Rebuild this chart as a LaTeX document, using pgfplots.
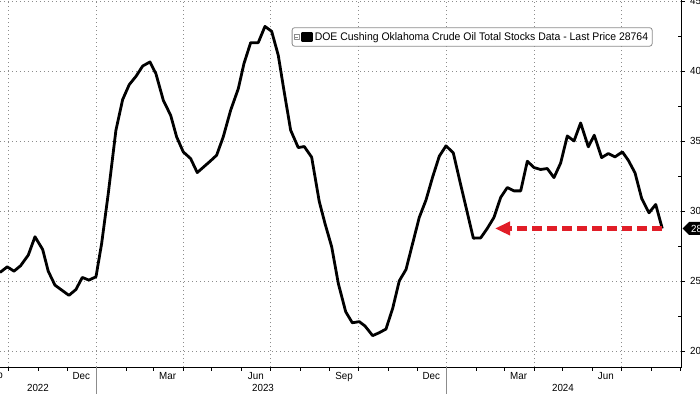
\documentclass[border=0pt]{standalone}
\usepackage{fontspec}
\setmainfont{Liberation Sans}[FakeStretch=0.95]
\usepackage{pgfplots}
\pgfplotsset{compat=1.18}
\usetikzlibrary{shapes.symbols,arrows.meta}
\definecolor{arrred}{RGB}{225,30,40}
\definecolor{gridgray}{RGB}{140,140,140}
\begin{document}
\begin{tikzpicture}
\begin{axis}[
  width=681.7pt, height=367pt, scale only axis,
  xmin=-100.8, xmax=610.1, ymin=18.857, ymax=45.1,
  axis x line*=bottom, axis y line*=right,
  axis line style={black, line width=0.8pt},
  clip=false,
  xtick={-92,0,90,181,273,365,456,547},
  xticklabels={},
  minor xtick={-61,-31,31,59,120,151,212,243,304,334,396,425,486,517,578,609},
  extra x ticks={-16,74,166,258,349,440,531},
  extra x tick labels={Dec,Mar,Jun,Sep,Dec,Mar,Jun},
  extra x tick style={grid=none, major tick length=0pt},
  xticklabel style={yshift=-1.5pt},
  ytick={20,25,30,35,40,45},
  minor ytick={22.5,27.5,32.5,37.5,42.5},
  xmajorgrids, ymajorgrids,
  grid style={gridgray, line width=0.7pt, dash pattern=on 0.8pt off 3.2pt},
  tick align=outside,
  major tick length=3.5pt, minor tick length=3.5pt,
  tick style={black, line width=0.7pt},
  every minor y tick/.append style={xshift=-3.5pt},
  ticklabel style={font=\fontsize{10.3}{12}\selectfont},
  yticklabel style={xshift=1.5pt},
  /pgf/number format/assume math mode=true,
  legend style={at={(rel axis cs:0.4279,0.9256)}, anchor=north west,
    draw=gridgray, rounded corners=2.5pt, line width=0.8pt,
    inner xsep=2pt, inner ysep=2.5pt,
    font=\fontsize{11}{13}\selectfont},
  legend cell align=left,
  legend image code/.code={
    \draw[gridgray, line width=0.5pt, rounded corners=0pt] (0pt,-2.2pt) rectangle (4.4pt,2.2pt);
    \draw[gridgray, line width=0.5pt] (1.1pt,0pt) -- (3.3pt,0pt);
    \fill[black, rounded corners=0pt] (8.5pt,-4pt) rectangle (17pt,4pt);
  },
]
\addplot[black, line width=2.8pt, line join=round] coordinates {
(-100.8,25.62) (-93.2,26.02) (-86.2,25.71) (-79.3,26.10) (-71.3,26.86) (-64.3,28.17) (-56.3,27.26) (-50.5,25.71) (-43.5,24.71) (-36.5,24.36) (-28.9,23.98) (-21.6,24.40) (-15.0,25.26) (-8.0,25.07) (-0.7,25.31) (5.2,27.69) (12.1,31.26) (20.1,35.79) (27.1,37.98) (34.0,39.05) (41.0,39.64) (48.0,40.38) (55.6,40.67) (61.8,39.83) (69.5,37.93) (77.2,36.85) (83.4,35.31) (90.3,34.24) (98.0,33.76) (104.9,32.76) (111.7,33.17) (118.5,33.58) (125.1,34.00) (132.0,35.31) (139.7,37.21) (147.7,38.76) (153.6,40.55) (160.6,42.05) (168.5,42.05) (175.5,43.21) (182.5,42.86) (189.4,41.14) (195.3,38.64) (202.3,35.79) (210.2,34.55) (216.5,34.62) (224.2,33.86) (232.1,30.70) (238.1,29.12) (245.1,27.45) (252.0,24.83) (259.7,22.81) (266.6,22.02) (273.9,22.10) (279.8,21.79) (287.8,21.10) (294.7,21.31) (301.7,21.57) (308.7,23.05) (315.6,25.02) (322.6,25.83) (329.5,27.69) (336.4,29.55) (343.4,30.79) (350.4,32.45) (357.3,33.93) (364.3,34.67) (371.9,34.17) (378.9,32.10) (385.9,30.07) (392.8,28.07) (400.5,28.09) (407.3,28.76) (414.3,29.55) (421.3,30.98) (428.2,31.69) (435.2,31.45) (442.2,31.45) (449.1,33.57) (456.1,33.12) (463.0,32.98) (469.9,33.05) (476.9,32.40) (483.9,33.45) (490.8,35.38) (497.8,35.02) (504.7,36.31) (512.7,34.60) (518.9,35.43) (526.6,33.83) (533.5,34.12) (540.5,33.88) (548.2,34.24) (554.4,33.64) (561.4,32.74) (568.4,30.90) (576.0,29.88) (583.0,30.48) (589.8,28.764)
};
\addlegendentry{DOE Cushing Oklahoma Crude Oil Total Stocks Data - Last Price 28764}
\addplot[arrred, line width=4.5pt, dash pattern=on 10pt off 5pt,
  -{Triangle[length=15pt,width=13pt]}, forget plot] coordinates {(589.1,28.764) (415.4,28.764)};
\coordinate (bl) at (rel axis cs:0,0);
\coordinate (tr) at (rel axis cs:1,1);
\draw[gridgray, line width=0.8pt] (axis cs:0,18.857) -- ++(0pt,-27pt);
\draw[gridgray, line width=0.8pt] (axis cs:365,18.857) -- ++(0pt,-27pt);
\node[font=\fontsize{10.3}{12}\selectfont] at ([yshift=-8.5pt]axis cs:-107,18.857) {Sep};
\node[font=\fontsize{10.3}{12}\selectfont] at ([yshift=-21pt]axis cs:-61.2,18.857) {2022};
\node[font=\fontsize{10.3}{12}\selectfont] at ([yshift=-21pt]axis cs:173.5,18.857) {2023};
\node[font=\fontsize{10.3}{12}\selectfont] at ([yshift=-21pt]axis cs:486.3,18.857) {2024};
\node[signal, signal to=west, fill=black, text=white, inner xsep=2pt, inner ysep=1pt,
  minimum height=13pt, anchor=west, font=\fontsize{10.3}{12}\selectfont]
  at ([xshift=0.6pt]axis cs:610.1,28.764) {28};
\end{axis}
\pgfresetboundingbox
\path[use as bounding box] ([yshift=-27pt]bl) rectangle ([xshift=18.3pt]tr);
\end{tikzpicture}
\end{document}
